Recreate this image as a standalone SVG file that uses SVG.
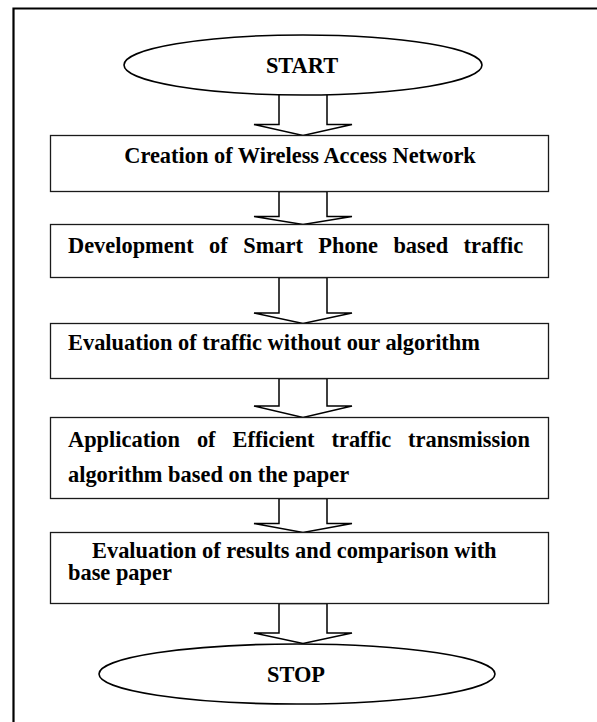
<svg xmlns="http://www.w3.org/2000/svg" width="597" height="722" viewBox="0 0 597 722">
  <style>
    .t { font-family: "Liberation Serif", "Times New Roman", serif; font-weight: bold; font-size: 22.4px; fill: #000; }
    .box { fill: #fff; stroke: #1a1a1a; stroke-width: 1.3; }
    .ell { fill: #fff; stroke: #000; stroke-width: 1.6; }
    .arr { fill: #fff; stroke: #000; stroke-width: 1.5; stroke-linejoin: miter; }
    .frame { fill: none; stroke: #000; stroke-width: 2.2; }
  </style>
  <rect width="597" height="722" fill="#fff"/>
  <path class="frame" d="M13.5,722 V8.5 H597"/>

  <g id="connectors">
    <polygon class="arr" points="279,94 279,124.5 254,124.5 303,135.5 352,124.5 327,124.5 327,94"/>
    <polygon class="arr" points="279,191.5 279,216.5 254,216.5 303,224.5 352,216.5 327,216.5 327,191.5"/>
    <polygon class="arr" points="279,277.5 279,313 254,313 303,323.5 352,313 327,313 327,277.5"/>
    <polygon class="arr" points="279,378.5 279,406 254,406 303,417.5 352,406 327,406 327,378.5"/>
    <polygon class="arr" points="279,498.5 279,523.5 254,523.5 303,532.5 352,523.5 327,523.5 327,498.5"/>
    <polygon class="arr" points="279,603.5 279,633 254,633 303,643.5 352,633 327,633 327,603.5"/>
  </g>

  <g id="start">
    <ellipse class="ell" cx="303" cy="65" rx="179" ry="30"/>
    <text class="t" x="302" y="72.5" text-anchor="middle">START</text>
  </g>

  <g id="step1">
    <rect class="box" x="50.5" y="135.5" width="498" height="56"/>
    <text class="t" x="300" y="163" text-anchor="middle">Creation of Wireless Access Network</text>
  </g>

  <g id="step2">
    <rect class="box" x="50.5" y="224.5" width="498" height="53"/>
    <text class="t" y="253"><tspan x="68">Development</tspan><tspan x="209.1">of</tspan><tspan x="243.2">Smart</tspan><tspan x="318.3">Phone</tspan><tspan x="393.4">based</tspan><tspan x="463.6">traffic</tspan></text>
  </g>

  <g id="step3">
    <rect class="box" x="50.5" y="323.5" width="498" height="55"/>
    <text class="t" x="68" y="350">Evaluation of traffic without our algorithm</text>
  </g>

  <g id="step4">
    <rect class="box" x="50.5" y="417.5" width="498" height="81"/>
    <text class="t" y="447"><tspan x="68">Application</tspan><tspan x="196.9">of</tspan><tspan x="232.5">Efficient</tspan><tspan x="331.5">traffic</tspan><tspan x="408.1">transmission</tspan></text>
    <text class="t" x="68" y="482">algorithm based on the paper</text>
  </g>

  <g id="step5">
    <rect class="box" x="50.5" y="532.5" width="498" height="71"/>
    <text class="t" x="92" y="558">Evaluation of results and comparison with</text>
    <text class="t" x="68" y="580">base paper</text>
  </g>

  <g id="stop">
    <ellipse class="ell" cx="297" cy="674" rx="198" ry="30"/>
    <text class="t" x="296" y="681.5" text-anchor="middle">STOP</text>
  </g>
</svg>
